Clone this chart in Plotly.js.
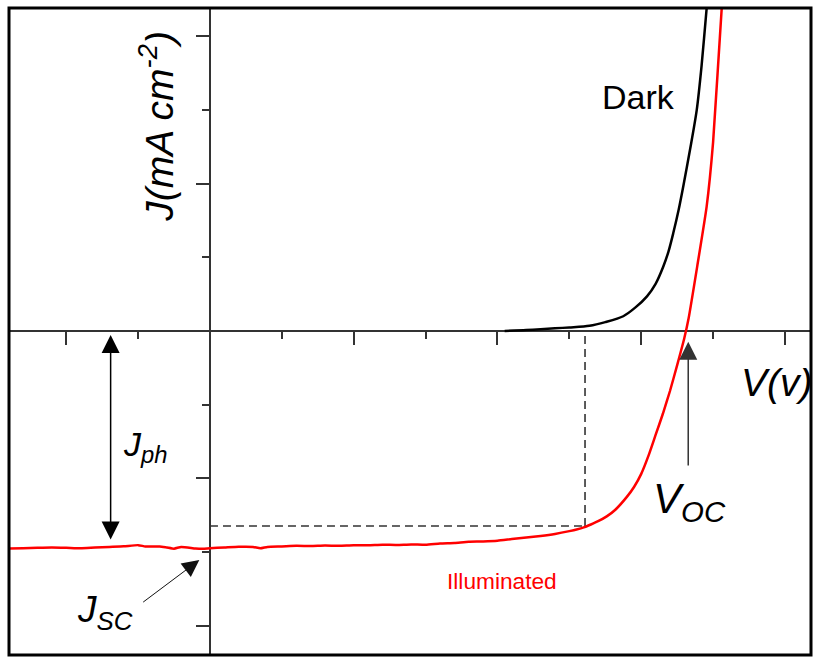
<!DOCTYPE html>
<html>
<head>
<meta charset="utf-8">
<script src="https://cdn.plot.ly/plotly-3.0.1.min.js"></script>
<style>html,body{margin:0;padding:0;background:#fff;}#chart{width:814px;height:657px;}</style>
</head>
<body>
<div id="chart"></div>
<script>
// Illuminated J-V curve (V in volts-like units, J in mA cm^-2 units as read)
const illumV = [-1.4,-1.3,-1.2,-1.1,-1.0,-0.9,-0.8,-0.7,-0.6,-0.5,-0.45,-0.4,-0.35,-0.3,-0.25,-0.2,-0.1,-0.05,0,0.1,0.2,0.3,0.35,0.4,0.5,0.6,0.7,0.8,0.9,1.0,1.1,1.2,1.3,1.4,1.5,1.6,1.7,1.8,1.9,2.0,2.1,2.2,2.3,2.4,2.5,2.55,2.6,2.65,2.7,2.76,2.82,2.9,2.95,3.0,3.05,3.1,3.15,3.2,3.25,3.3,3.33,3.39,3.455,3.5,3.56,3.58];
const illumJ = [-1.475,-1.473,-1.470,-1.468,-1.470,-1.473,-1.468,-1.464,-1.460,-1.452,-1.461,-1.462,-1.461,-1.468,-1.476,-1.464,-1.475,-1.477,-1.473,-1.468,-1.463,-1.464,-1.474,-1.464,-1.461,-1.457,-1.458,-1.455,-1.456,-1.452,-1.453,-1.449,-1.451,-1.447,-1.450,-1.441,-1.437,-1.429,-1.427,-1.422,-1.411,-1.401,-1.390,-1.376,-1.357,-1.346,-1.332,-1.312,-1.290,-1.257,-1.212,-1.125,-1.058,-0.969,-0.847,-0.705,-0.563,-0.407,-0.231,-0.047,0.088,0.441,0.843,1.281,2.190,2.41];
// Dark J-V curve
const darkV = [2.05,2.2,2.3,2.4,2.5,2.64,2.75,2.875,2.96,3.04,3.1,3.153,3.19,3.223,3.26,3.292,3.339,3.386,3.42,3.455,3.47];
const darkJ = [0,0.006,0.012,0.018,0.024,0.035,0.06,0.10,0.16,0.235,0.32,0.436,0.54,0.664,0.82,0.978,1.227,1.498,1.80,2.188,2.35];
// Maximum power point guide
const mppV = 2.609;
const mppJ = -1.322;

const trDark = {x: darkV, y: darkJ, mode: 'lines', line: {color: '#000', width: 2.5, shape: 'spline', smoothing: 0.8}, hoverinfo: 'skip'};
const trIllum = {x: illumV, y: illumJ, mode: 'lines', line: {color: '#ff0000', width: 2.5, shape: 'spline', smoothing: 0.5}, hoverinfo: 'skip'};
const trMppH = {x: [0, mppV], y: [mppJ, mppJ], mode: 'lines', line: {color: '#333', width: 1.6, dash: '8px,5px'}, hoverinfo: 'skip'};
const trMppV = {x: [mppV, mppV], y: [mppJ, 0], mode: 'lines', line: {color: '#333', width: 1.6, dash: '8px,5px'}, hoverinfo: 'skip'};

const F = 'Liberation Sans, Arial, sans-serif';
function txt(x, y, text, size, opts) {
  return Object.assign({x: x, y: y, xref: 'x', yref: 'y', text: text, showarrow: false,
    xanchor: 'center', yanchor: 'middle', font: {family: F, size: size, color: '#000'}}, opts || {});
}
function arr(x, y, ax, ay, opts) {
  return Object.assign({x: x, y: y, ax: ax, ay: ay, xref: 'x', yref: 'y', axref: 'x', ayref: 'y',
    text: '', showarrow: true, arrowhead: 2, arrowsize: 2.4, arrowwidth: 1.5, arrowcolor: '#000',
    standoff: 0, startstandoff: 0}, opts || {});
}

const layout = {
  width: 814, height: 657,
  margin: {l: 9, r: 3, t: 8, b: 2},
  paper_bgcolor: '#fff', plot_bgcolor: '#fff',
  showlegend: false,
  xaxis: {range: [-1.398, 4.181], anchor: 'free', position: 0.5008, showgrid: false, zeroline: false,
    showline: true, linecolor: '#333', linewidth: 2, ticks: 'outside', ticklen: 13, tickwidth: 2, tickcolor: '#333',
    dtick: 1, tick0: 0, showticklabels: false, layer: 'below traces',
    minor: {ticks: 'outside', ticklen: 7, tickwidth: 2, tickcolor: '#333', dtick: 0.5, tick0: 0, showgrid: false}},
  yaxis: {range: [-2.197, 2.190], anchor: 'free', position: 0.2506, showgrid: false, zeroline: false,
    showline: true, linecolor: '#333', linewidth: 2, ticks: 'outside', ticklen: 13, tickwidth: 2, tickcolor: '#333',
    dtick: 1, tick0: 0, showticklabels: false, layer: 'below traces',
    minor: {ticks: 'outside', ticklen: 7, tickwidth: 2, tickcolor: '#333', dtick: 0.5, tick0: 0, showgrid: false}},
  shapes: [{type: 'rect', xref: 'paper', yref: 'paper', x0: 0, x1: 1, y0: 0, y1: 1, line: {color: '#000', width: 3}}],
  annotations: [
    txt(-0.37, 1.39, '<i>J(mA cm<sup>-2</sup>)</i>', 39, {textangle: -90}),
    txt(2.984, 1.586, 'Dark', 34),
    txt(3.944, -0.346, '<i>V(v)</i>', 39),
    txt(2.031, -1.695, 'Illuminated', 22.7, {font: {family: F, size: 22.7, color: '#ff0000'}}),
    txt(-0.45, -0.78, '<i>J<sub>ph</sub></i>', 34),
    txt(-0.727, -1.905, '<i>J<sub>SC</sub></i>', 37),
    txt(3.336, -1.153, '<i>V<sub>OC</sub></i>', 42),
    arr(-0.691, -0.027, -0.691, -1.424, {arrowside: 'end+start', startarrowhead: 2, startarrowsize: 2.4}),
    arr(-0.074, -1.553, -0.475, -1.846, {arrowwidth: 1, arrowsize: 3.4, arrowcolor: '#111'}),
    arr(3.327, -0.073, 3.327, -0.922, {arrowcolor: '#333'})
  ]
};

Plotly.newPlot('chart', [trMppH, trMppV, trDark, trIllum], layout, {staticPlot: true, displayModeBar: false});
</script>
</body>
</html>
